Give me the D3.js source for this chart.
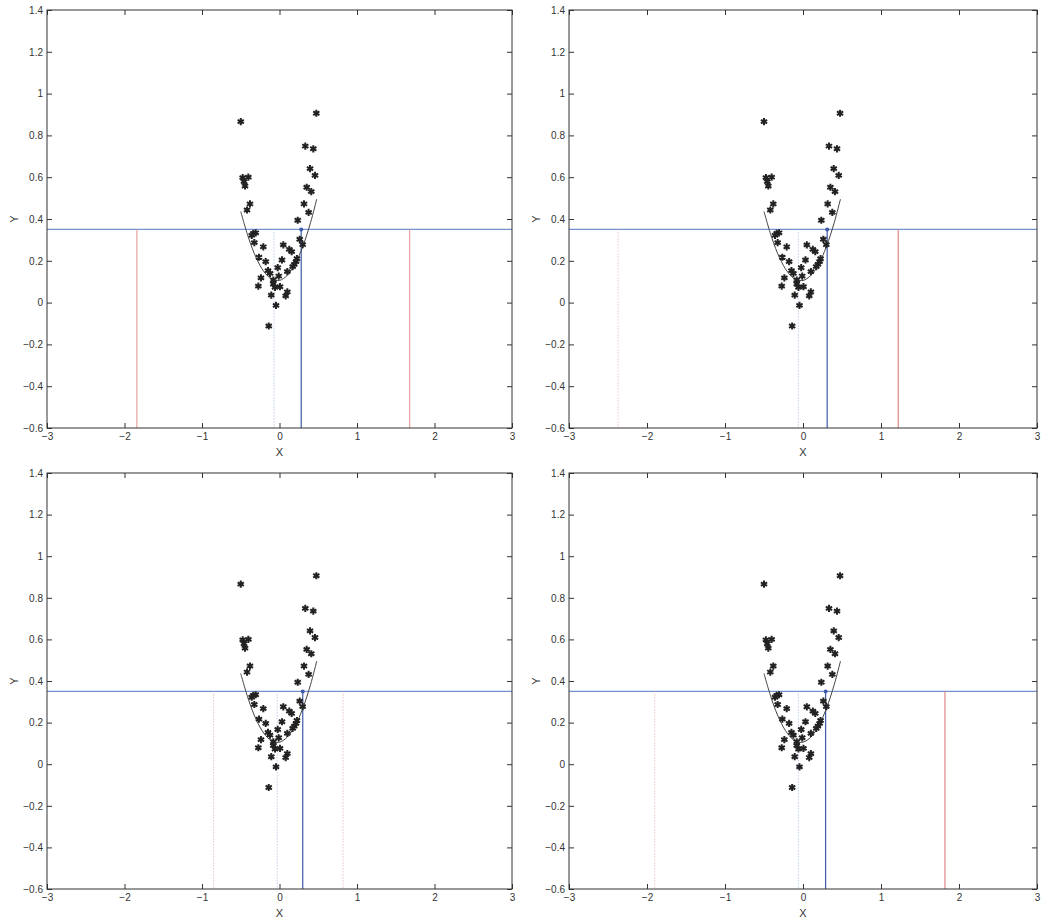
<!DOCTYPE html>
<html>
<head>
<meta charset="utf-8">
<script src="https://cdn.jsdelivr.net/npm/d3@7"></script>
<style>
  body { margin: 0; background: #fff; }
  svg { display: block; }
  .tick text { font-family: "Liberation Sans", Arial, sans-serif; font-size: 10px; fill: #333; }
  .tick line { stroke: #333; }
  .lbl { font-family: "Liberation Sans", Arial, sans-serif; font-size: 11px; fill: #333; }
</style>
</head>
<body>
<script>
// scatter points (same in every panel)
const ptX = [-0.50, 0.475, 0.333, 0.436, 0.394, 0.458, 0.351, 0.410, 0.316, 0.376, 0.235, 0.261, 0.299,
  -0.475, -0.402, -0.458, -0.445, -0.381, -0.419, -0.338, -0.307, -0.359, -0.325, -0.209, -0.265,
  -0.178, -0.148, -0.123, -0.239, -0.273, -0.080, -0.058, 0.006, -0.106, -0.045, -0.139, 0.101,
  0.080, -0.010, -0.023, 0.032, 0.049, 0.126, 0.157, 0.101, 0.170, 0.191, 0.213, 0.225, -0.080];
const ptY = [0.866, 0.906, 0.749, 0.736, 0.641, 0.609, 0.552, 0.531, 0.472, 0.432, 0.394, 0.303, 0.277,
  0.598, 0.600, 0.579, 0.558, 0.472, 0.443, 0.331, 0.334, 0.322, 0.287, 0.267, 0.217,
  0.196, 0.153, 0.140, 0.118, 0.079, 0.089, 0.073, 0.076, 0.036, -0.013, -0.112, 0.051,
  0.032, 0.127, 0.167, 0.204, 0.276, 0.255, 0.244, 0.148, 0.172, 0.183, 0.196, 0.210, 0.108];

// fitted curve
const curveX = [-0.50, -0.40, -0.30, -0.20, -0.10, 0.00, 0.10, 0.20, 0.30, 0.40, 0.48];
const curveY = [0.436, 0.310, 0.214, 0.148, 0.112, 0.106, 0.130, 0.184, 0.268, 0.382, 0.495];

// reference lines
const levelY = 0.35;
const markX = [0.28, 0.31, 0.30, 0.29];
const centerX = [-0.07, -0.06, -0.03, -0.06];
const leftX = [-1.84, -2.37, -0.85, -1.90];
const rightX = [1.68, 1.22, 0.82, 1.82];

const xTicks = [-3, -2, -1, 0, 1, 2, 3];
const yTicks = [-0.6, -0.4, -0.2, 0, 0.2, 0.4, 0.6, 0.8, 1, 1.2, 1.4];

// panel boxes and line styles
const boxes = [
  { x0: 47, x1: 512, y0: 10, y1: 428 },
  { x0: 569, x1: 1037, y0: 10, y1: 428 },
  { x0: 47, x1: 512, y0: 473, y1: 889 },
  { x0: 569, x1: 1037, y0: 473, y1: 889 }
];
const sideStyle = [
  { left: "#e39090", leftDash: null, right: "#e39090", rightDash: null },
  { left: "#e8a8a8", leftDash: "1,2", right: "#d97070", rightDash: null },
  { left: "#d8a8a8", leftDash: "1,2", right: "#d8a8a8", rightDash: "1,2" },
  { left: "#e8a8a8", leftDash: "1,2", right: "#d97070", rightDash: null }
];

var fmt = function(d) { return d3.format("")(+d.toFixed(1)).replace("-", "\u2212"); };

var svg = d3.select("body").append("svg")
  .attr("width", 1045).attr("height", 920);

boxes.forEach(function(b, i) {
  var w = b.x1 - b.x0, h = b.y1 - b.y0;
  var x = d3.scaleLinear().domain([-3, 3]).range([0, w]);
  var y = d3.scaleLinear().domain([-0.6, 1.4]).range([h, 0]);

  var g = svg.append("g").attr("transform", "translate(" + b.x0 + "," + b.y0 + ")");

  // reference lines
  g.append("line")
    .attr("x1", 0).attr("x2", w).attr("y1", y(levelY)).attr("y2", y(levelY))
    .attr("stroke", "#7392d2").attr("stroke-width", 1.2);
  g.append("line")
    .attr("x1", x(leftX[i])).attr("x2", x(leftX[i])).attr("y1", y(levelY)).attr("y2", h)
    .attr("stroke", sideStyle[i].left).attr("stroke-dasharray", sideStyle[i].leftDash);
  g.append("line")
    .attr("x1", x(rightX[i])).attr("x2", x(rightX[i])).attr("y1", y(levelY)).attr("y2", h)
    .attr("stroke", sideStyle[i].right).attr("stroke-dasharray", sideStyle[i].rightDash);
  g.append("line")
    .attr("x1", x(centerX[i])).attr("x2", x(centerX[i])).attr("y1", y(levelY)).attr("y2", h)
    .attr("stroke", "#9fb3dd").attr("stroke-dasharray", "1,2");
  g.append("line")
    .attr("x1", x(markX[i])).attr("x2", x(markX[i])).attr("y1", y(levelY)).attr("y2", h)
    .attr("stroke", "#3d5aa8").attr("stroke-width", 1.2);

  // fitted curve
  var line = d3.line()
    .x(function(d) { return x(d[0]); })
    .y(function(d) { return y(d[1]); })
    .curve(d3.curveCatmullRom);
  g.append("path")
    .datum(d3.zip(curveX, curveY))
    .attr("d", line)
    .attr("fill", "none").attr("stroke", "#444").attr("stroke-width", 1);

  // points
  var sym = d3.symbol(d3.symbolAsterisk, 36);
  g.selectAll("path.pt")
    .data(d3.zip(ptX, ptY))
    .enter()
    .append("path")
      .attr("class", "pt")
      .attr("d", sym)
      .attr("transform", function(d) { return "translate(" + x(d[0]) + "," + y(d[1]) + ")"; })
      .attr("fill", "none").attr("stroke", "#222").attr("stroke-width", 2);

  // blue marker at the crossing
  g.append("circle")
    .attr("cx", x(markX[i])).attr("cy", y(levelY)).attr("r", 2)
    .attr("fill", "#3d5aa8");

  // axes (MATLAB style, ticks inside, box)
  g.append("g")
    .attr("transform", "translate(0," + h + ")")
    .call(d3.axisBottom(x).tickValues(xTicks).tickFormat(fmt).tickSizeInner(-5).tickSizeOuter(0).tickPadding(5))
    .call(function(a) { a.select(".domain").remove(); });
  g.append("g")
    .call(d3.axisTop(x).tickValues(xTicks).tickFormat("").tickSizeInner(-5).tickSizeOuter(0))
    .call(function(a) { a.select(".domain").remove(); });
  g.append("g")
    .call(d3.axisLeft(y).tickValues(yTicks).tickFormat(fmt).tickSizeInner(-5).tickSizeOuter(0).tickPadding(4))
    .call(function(a) { a.select(".domain").remove(); });
  g.append("g")
    .attr("transform", "translate(" + w + ",0)")
    .call(d3.axisRight(y).tickValues(yTicks).tickFormat("").tickSizeInner(-5).tickSizeOuter(0))
    .call(function(a) { a.select(".domain").remove(); });

  g.append("rect")
    .attr("width", w).attr("height", h)
    .attr("fill", "none").attr("stroke", "#333").attr("stroke-width", 1);

  g.append("text").attr("class", "lbl")
    .attr("x", w / 2).attr("y", h + 28)
    .attr("text-anchor", "middle")
    .text("X");
  g.append("text").attr("class", "lbl")
    .attr("transform", "translate(-33," + y(0.4) + ") rotate(-90)")
    .attr("text-anchor", "middle")
    .attr("dy", "0.35em")
    .text("Y");
});
</script>
</body>
</html>
